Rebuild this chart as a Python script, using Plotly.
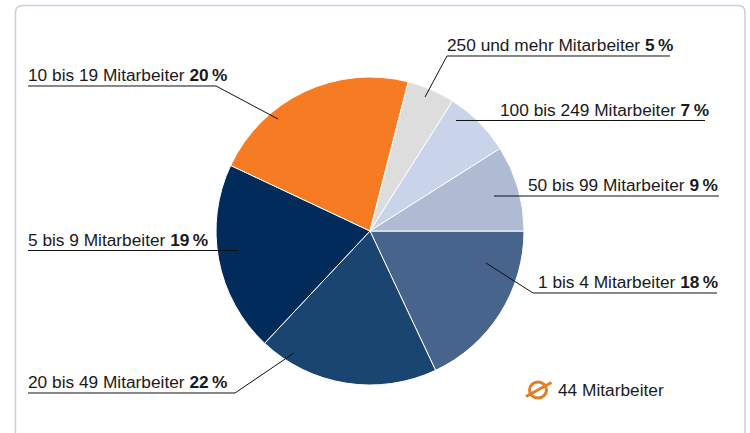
import plotly.graph_objects as go

W, H = 750, 433

# Slice shares going clockwise from 3 o'clock
slice_names = ["1 bis 4", "20 bis 49", "5 bis 9", "10 bis 19", "250 und mehr", "100 bis 249", "50 bis 99"]
slice_values = [18, 19, 20, 22, 5, 7, 9]
slice_colors = ["#46648c", "#1a4571", "#012b5a", "#f67b22", "#dddddd", "#c9d3ea", "#afbbd2"]

# Label texts exactly as printed
label_names = ["10 bis 19 Mitarbeiter", "250 und mehr Mitarbeiter", "100 bis 249 Mitarbeiter",
               "50 bis 99 Mitarbeiter", "5 bis 9 Mitarbeiter", "20 bis 49 Mitarbeiter", "1 bis 4 Mitarbeiter"]
label_shares = ["20\u2009%", "5\u2009%", "7\u2009%", "9\u2009%", "19\u2009%", "22\u2009%", "18\u2009%"]
label_x = [27, 446, 498.5, 527, 27, 27, 537]
# leader polylines in page pixels
leaders = [
    [(28, 86), (216, 86), (278, 119)],
    [(670, 56), (447, 56), (425, 97)],
    [(705, 120.5), (456, 120.5)],
    [(719, 196), (494, 196)],
    [(28, 250.5), (238, 250.5)],
    [(28, 393), (235, 393), (294, 353)],
    [(717, 293), (533, 293), (486, 263)],
]
mean_text = "44 Mitarbeiter"


def px(x):
    return x / W


def py(y):
    return 1 - y / H


CX, CY, R = 370, 231, 154

fig = go.Figure(go.Pie(
    labels=slice_names, values=slice_values, sort=False, direction="clockwise", rotation=90,
    marker=dict(colors=slice_colors, line=dict(color="white", width=1)),
    textinfo="none", hoverinfo="label+percent", showlegend=False,
    domain=dict(x=[px(CX - R), px(CX + R)], y=[py(CY + R), py(CY - R)]),
))

shapes = []
for pts in leaders:
    path = "M " + " L ".join(f"{px(x):.5f},{py(y):.5f}" for x, y in pts)
    shapes.append(dict(type="path", xref="paper", yref="paper", path=path,
                       line=dict(color="#111111", width=1)))

# Card border: rounded on top, open at the bottom
r = 7
L, T, Rt, B = 15.5, 5.5, 745, 440
border = (f"M {px(L)},{py(B)} L {px(L)},{py(T + r)} Q {px(L)},{py(T)} {px(L + r)},{py(T)} "
          f"L {px(Rt - r)},{py(T)} Q {px(Rt)},{py(T)} {px(Rt)},{py(T + r)} L {px(Rt)},{py(B)}")
shapes.append(dict(type="path", xref="paper", yref="paper", path=border,
                   line=dict(color="#c5d0e3", width=1.5)))

# Mean-symbol icon
ORANGE = "#df7f27"
shapes.append(dict(type="circle", xref="paper", yref="paper",
                   x0=px(529.5), x1=px(546.5), y0=py(398), y1=py(382),
                   line=dict(color=ORANGE, width=3)))
shapes.append(dict(type="line", xref="paper", yref="paper",
                   x0=px(526), y0=py(396.5), x1=px(551.5), y1=py(382.5),
                   line=dict(color=ORANGE, width=3)))

annotations = []
for name, share, x, pts in zip(label_names, label_shares, label_x, leaders):
    annotations.append(dict(xref="paper", yref="paper", x=px(x), y=py(pts[0][1]),
                            xanchor="left", yanchor="bottom", showarrow=False, borderpad=0,
                            text=f"{name} <b>{share}</b>"))
annotations.append(dict(xref="paper", yref="paper", x=px(557), y=py(390),
                        xanchor="left", yanchor="middle", showarrow=False, borderpad=0,
                        text=mean_text))

fig.update_layout(
    width=W, height=H, margin=dict(l=0, r=0, t=0, b=0),
    paper_bgcolor="white", plot_bgcolor="white",
    font=dict(family="Liberation Sans, Arial, sans-serif", size=17.3, color="#1a1a1a"),
    shapes=shapes, annotations=annotations,
)
fig.write_html("out.html", config=dict(displayModeBar=False),
               post_script="document.body.style.margin='0';document.body.style.overflow='hidden';")
